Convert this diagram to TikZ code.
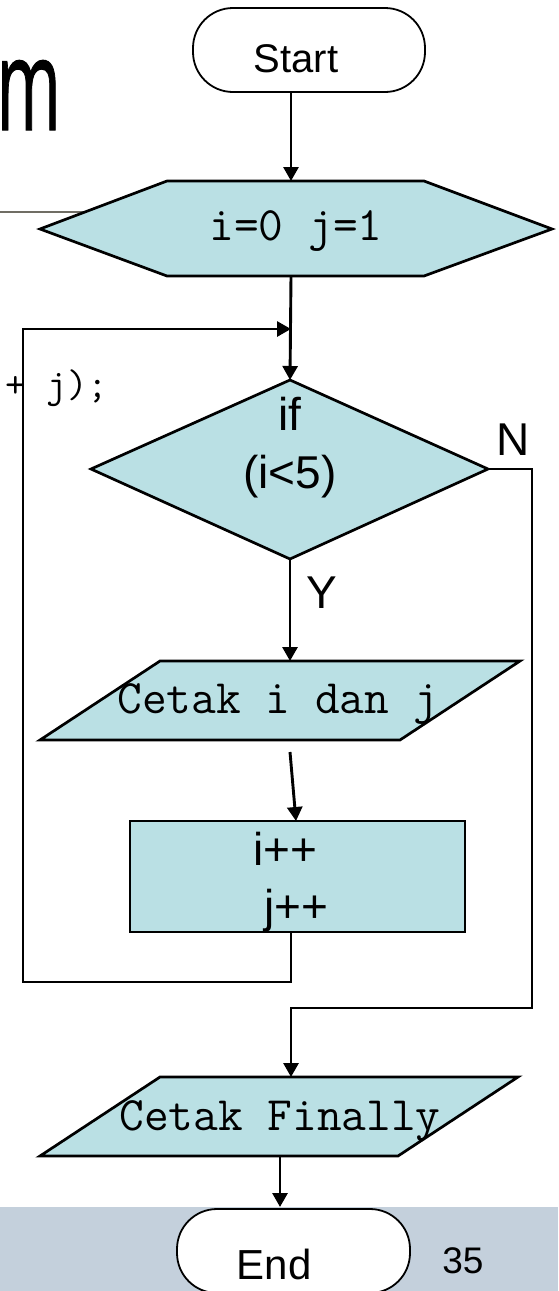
\documentclass[tikz,border=0pt]{standalone}
\usepackage{fontspec}
\setmainfont{Liberation Sans}
\newfontfamily\titlef[FakeBold=1]{Open Sans}
\usetikzlibrary{arrows.meta,shapes.geometric}
\definecolor{boxfill}{RGB}{186,224,228}
\definecolor{band}{RGB}{196,208,220}
\definecolor{rulegray}{RGB}{112,109,100}
\begin{document}
\begin{tikzpicture}[x=1pt,y=-1pt,
  conn/.style={line width=2.9pt,-{Triangle[length=14pt,width=15pt]}},
  shapebox/.style={draw=black,line width=2.7pt,fill=boxfill},
  term/.style={draw=black,line width=1.8pt,fill=white,rounded corners=40pt,
    minimum width=232pt,minimum height=84pt,inner sep=0pt},
  sanslbl/.style={inner sep=0pt,anchor=base,font=\fontsize{46}{46}\selectfont},
  monolbl/.style={inner sep=0pt,anchor=base,font=\ttfamily\fontsize{48}{48}\selectfont}
]
\useasboundingbox (0,0) rectangle (558,1291);
% bottom band
\fill[band] (0,1207) rectangle (558,1291);
% title fragment and rule
\draw[rulegray,line width=2.8pt] (0,212) -- (140,212);
\node[anchor=base east,inner sep=0pt,font=\titlef\fontsize{128}{128}\selectfont,xscale=0.54] (title) at (61,130) {m};
\node[anchor=base west,inner sep=0pt,font=\ttfamily\fontsize{40}{40}\selectfont] (code) at (5,397) {+ j);};
% shapes
\node[term] (start) at (309,50) {};
\node[inner sep=0pt,anchor=base,font=\fontsize{40}{40}\selectfont] (starttxt) at (296,72) {Start};
\draw[shapebox] (40,229) -- (167,181) -- (424,181) -- (552,229) -- (424,276) -- (167,276) -- cycle;
\node[monolbl] (init) at (296,240) {i=0 j=1};
\draw[shapebox] (290,380) -- (488,469) -- (290,559) -- (91,469) -- cycle;
\node[sanslbl] (cond1) at (290,430) {if};
\node[sanslbl] (cond2) at (290,488) {(i<5)};
\draw[shapebox] (160,661) -- (520,661) -- (400,740) -- (40,740) -- cycle;
\node[monolbl] (print1) at (278,713) {Cetak i dan j};
\node[shapebox,minimum width=335pt,minimum height=111pt,inner sep=0pt] (inc) at (297.5,876.5) {};
\node[sanslbl] (inci) at (285,865) {i++};
\node[sanslbl] (incj) at (296,922) {j++};
\draw[shapebox] (160,1077) -- (518,1077) -- (398,1156) -- (40,1156) -- cycle;
\node[monolbl] (print2) at (280,1130) {Cetak Finally};
\node[term,minimum width=233pt] (end) at (293.5,1251) {};
\node[inner sep=0pt,anchor=base,font=\fontsize{42}{42}\selectfont] (endtxt) at (274,1279) {End};
\node[inner sep=0pt,anchor=base,font=\fontsize{37}{37}\selectfont] (page) at (463,1273) {35};
\node[sanslbl,anchor=base west] (nlbl) at (496,455) {N};
\node[sanslbl,anchor=base west] (ylbl) at (306,608) {Y};
% connection points
\coordinate (sBot) at (291,92);
\coordinate (hTop) at (291,181);
\coordinate (hBot) at (291,276);
\coordinate (merge) at (291,329);
\coordinate (dTop) at (290,380);
\coordinate (dBot) at (290,559);
\coordinate (dRight) at (488,469);
\coordinate (p1Top) at (290,661);
\coordinate (p1Bot) at (290,752);
\coordinate (rTop) at (296,821);
\coordinate (rBot) at (291,932);
\coordinate (p2Top) at (291,1077);
\coordinate (p2Bot) at (280,1156);
\coordinate (eTop) at (280,1207);
% connectors
\draw[conn] (sBot) -- (hTop);
\draw[conn] (hBot) -- (dTop);
\draw[conn] (rBot) -- (291,982) -- (23,982) -- (23,329) -- (merge);
\draw[conn] (dBot) -- (p1Top);
\draw[conn] (p1Bot) -- (rTop);
\draw[conn] (dRight) -- (532,469) -- (532,1008) -- (291,1008) -- (p2Top);
\draw[conn] (p2Bot) -- (eTop);
\end{tikzpicture}
\end{document}
